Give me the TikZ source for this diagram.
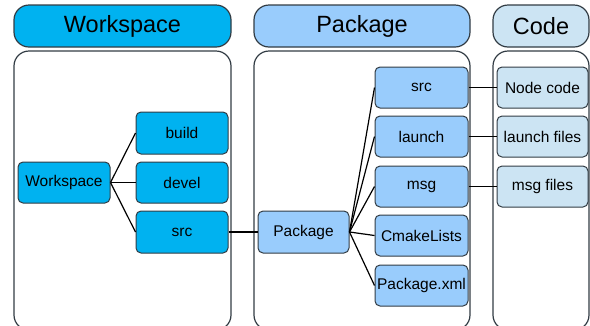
\documentclass[tikz,border=0pt]{standalone}
\usepackage{fontspec}
\setmainfont{Liberation Sans}
\definecolor{wsblue}{RGB}{0,178,240}
\definecolor{pkblue}{RGB}{153,204,252}
\definecolor{cdblue}{RGB}{204,228,243}
\definecolor{edge}{RGB}{50,60,68}
\tikzset{
  hdr/.style={draw=edge, line width=1.2pt, rounded corners=15pt, minimum height=42pt, inner sep=0pt, font=\fontsize{23.5}{26}\selectfont},
  panel/.style={draw=edge, line width=1.2pt, rounded corners=15pt},
  box/.style={draw=edge, line width=1pt, rounded corners=5pt, minimum height=41pt, inner sep=0pt, font=\fontsize{15.5}{18}\selectfont},
  conn/.style={draw=black, line width=1.2pt}
}
\begin{document}
\begin{tikzpicture}[x=1pt,y=-1pt]
\useasboundingbox (0,0) rectangle (590,325);
\clip (0,0) rectangle (590,325);
% headers
\node[hdr, fill=wsblue, minimum width=217pt] (hws) at (122.5,26) {Workspace};
\node[hdr, fill=pkblue, minimum width=216pt] (hpk) at (362,26) {Package};
\node[hdr, fill=cdblue, minimum width=96pt] (hcd) at (541,26) {Code};
% panels
\draw[panel] (14,51) rectangle (231,330);
\draw[panel] (254,51) rectangle (470,330);
\draw[panel] (493,51) rectangle (589,330);
% workspace nodes
\node[box, fill=wsblue, minimum width=92pt] (ws) at (64,182.5) {Workspace};
\node[box, fill=wsblue, minimum width=92pt, minimum height=42pt] (build) at (182,133) {build};
\node[box, fill=wsblue, minimum width=92pt] (devel) at (182,182.5) {devel};
\node[box, fill=wsblue, minimum width=92pt, minimum height=42pt] (wsrc) at (182,232) {src};
% package nodes
\node[box, fill=pkblue, minimum width=91pt, minimum height=42pt] (pk) at (303.5,232) {Package};
\node[box, fill=pkblue, minimum width=93pt] (psrc) at (421.5,87.5) {src};
\node[box, fill=pkblue, minimum width=93pt] (launch) at (421.5,136.5) {launch};
\node[box, fill=pkblue, minimum width=93pt] (msg) at (421.5,186.5) {msg};
\node[box, fill=pkblue, minimum width=93pt] (cmake) at (421.5,235.5) {CmakeLists};
\node[box, fill=pkblue, minimum width=93pt] (pxml) at (421.5,285.5) {Package.xml};
% code nodes
\node[box, fill=cdblue, minimum width=91pt] (ncode) at (542.5,87.5) {Node code};
\node[box, fill=cdblue, minimum width=91pt] (lfiles) at (542.5,136.5) {launch files};
\node[box, fill=cdblue, minimum width=91pt] (mfiles) at (542.5,186.5) {msg files};
% connectors
\draw[conn] (ws.east) -- (build.west);
\draw[conn] (ws.east) -- (devel.west);
\draw[conn] (ws.east) -- (wsrc.west);
\draw[conn] (wsrc.east) -- (pk.west);
\foreach \t in {psrc,launch,msg,cmake,pxml} \draw[conn] (pk.east) -- (\t.west);
\draw[conn] (psrc.east) -- (ncode.west);
\draw[conn] (launch.east) -- (lfiles.west);
\draw[conn] (msg.east) -- (mfiles.west);
\end{tikzpicture}
\end{document}
